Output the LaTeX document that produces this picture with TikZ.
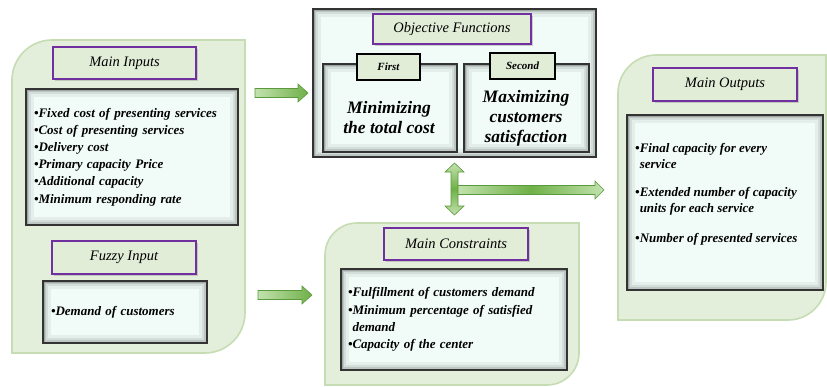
\documentclass[tikz,border=0pt]{standalone}
\usepackage{fontspec}
\setmainfont{Liberation Serif}
\usetikzlibrary{shadows}
\definecolor{panelfill}{HTML}{E4EFDB}
\definecolor{paneldraw}{HTML}{C6DDB3}
\definecolor{titlefill}{HTML}{E2EDD8}
\definecolor{titledraw}{HTML}{7030A0}
\definecolor{mint}{HTML}{F1FBF7}
\definecolor{arrowdraw}{HTML}{5A9A3C}
\definecolor{arrowlight}{HTML}{C3E2AE}
\definecolor{arrowdark}{HTML}{6FB048}
\newcommand\mypanel[5]{%
  \draw[panel] (#1,#2+#5) .. controls (#1,#2+0.45*#5) and (#1+0.45*#5,#2) .. (#1+#5,#2)
    -- (#3,#2) -- (#3,#4-#5) .. controls (#3,#4-0.45*#5) and (#3-0.45*#5,#4) .. (#3-#5,#4)
    -- (#1,#4) -- cycle;}
\tikzset{
  panel/.style={fill=panelfill, draw=paneldraw, line width=1.6pt},
  titlebox/.style={draw=titledraw, line width=2.4pt, fill=titlefill, font=\itshape\fontsize{14.5}{16}\selectfont,
    drop shadow={shadow xshift=2pt, shadow yshift=-2pt, opacity=0.35}},
  vignette/.style={path picture={
    \foreach \w/\o in {16/0.05,10/0.07,6/0.1,3/0.16,1.5/0.2}
      \draw[line width=\w pt, black, opacity=\o] (path picture bounding box.south west) rectangle (path picture bounding box.north east);}},
  contentbox/.style={draw=black!80, line width=1.2pt, fill=mint, vignette, inner xsep=9pt,
    font=\bfseries\itshape\fontsize{13}{17.2}\selectfont, align=left},
  smalllabel/.style={draw=black, line width=1.3pt, fill=titlefill, font=\bfseries\itshape\fontsize{11}{12}\selectfont},
  bigtext/.style={font=\bfseries\itshape\fontsize{17.5}{20}\selectfont, align=center},
  listtext/.style={font=\bfseries\itshape\fontsize{13}{16}\selectfont, align=left, inner sep=0pt},
  blockarrow/.style={draw=arrowdraw, line width=0.6pt, shading=axis, left color=arrowlight, right color=arrowdark},
  blockarrowv/.style={draw=arrowdraw, line width=0.6pt, top color=arrowlight, bottom color=arrowlight, middle color=arrowdark},
  blockarrowh/.style={draw=arrowdraw, line width=0.6pt, left color=arrowlight, right color=arrowlight, middle color=arrowdark},
}
\newcommand\myharrow[6]{% style, x1, x2, yc, head length
  \draw[#1] (#2,#4-4.5) -- (#3-#5,#4-4.5) -- (#3-#5,#4-9) -- (#3,#4) -- (#3-#5,#4+9) -- (#3-#5,#4+4.5) -- (#2,#4+4.5) -- cycle;}
\begin{document}
\begin{tikzpicture}[x=1pt,y=-1pt]
\useasboundingbox (0,0) rectangle (827,386);
\fill[white] (0,0) rectangle (827,386);

% panels
\mypanel{12}{40}{245}{353}{40}
\mypanel{325}{223}{579}{385}{32}
\mypanel{618}{55}{826}{320}{38}

% Main inputs
\node[titlebox, minimum width=143pt, minimum height=32pt] (mitit) at (124.5,63) {Main Inputs};
\node[contentbox, minimum width=212pt, minimum height=136pt, text width=196pt, inner xsep=8pt] (mibox) at (132,157)
 {•Fixed cost of presenting services\\
  •Cost of presenting services\\
  •Delivery cost\\
  •Primary capacity Price\\
  •Additional capacity\\
  •Minimum responding rate};

% Fuzzy input
\node[titlebox, minimum width=144pt, minimum height=33pt] (fititle) at (124,257.5) {Fuzzy Input};
\node[contentbox, minimum width=164pt, minimum height=62pt, text width=148pt, inner xsep=8pt] (fibox) at (125,312)
 {•Demand of customers};

% Objective functions
\node[contentbox, minimum width=283pt, minimum height=148pt] (objbox) at (454.5,83) {};
\node[titlebox, minimum width=158pt, minimum height=30pt] (objtitle) at (452,29) {Objective Functions};
\node[contentbox, minimum width=134pt, minimum height=88pt] (firstbox) at (390,108) {};
\node[contentbox, minimum width=125pt, minimum height=88pt] (secondbox) at (526.5,108) {};
\node[smalllabel, minimum width=63pt, minimum height=26pt] (firstlab) at (388.5,67) {First};
\node[smalllabel, minimum width=65pt, minimum height=26pt] (secondlab) at (522.5,66) {Second};
\node[bigtext] (firsttext) at (389,118) {Minimizing\\the total cost};
\node[bigtext] (secondtext) at (526,118) {Maximizing\\customers\\satisfaction};

% Constraints
\node[titlebox, minimum width=144pt, minimum height=32pt] (contitle) at (456,244) {Main Constraints};
\node[contentbox, minimum width=226pt, minimum height=101pt, text width=212pt, inner xsep=7pt] (conbox) at (454,319.5)
 {•Fulfillment of customers demand\\
  •Minimum percentage of satisfied\\
  \phantom{•}demand\\
  •Capacity of the center};

% Outputs
\node[titlebox, minimum width=144pt, minimum height=33pt] (outtitle) at (725,84.5) {Main Outputs};
\node[contentbox, minimum width=196pt, minimum height=175pt] (outbox) at (725,202.5) {};
\node[listtext, anchor=base west] (out1) at (635,168.5) {•Final capacity for every\\\phantom{•}service};
\node[listtext, anchor=base west] (out2) at (635,212.5) {•Extended number of capacity\\\phantom{•}units for each service};
\node[listtext, anchor=base west] (out3) at (635,242.5) {•Number of presented services};

% block arrows
\myharrow{blockarrow}{255}{308}{93}{10}{}
\myharrow{blockarrow}{258}{312}{295}{10}{}
\myharrow{blockarrowh}{457}{604}{190}{9}{}
\draw[blockarrowv] (451,172) -- (445,172) -- (454.5,163) -- (464,172) -- (458,172)
  -- (458,206) -- (464,206) -- (454.5,215) -- (445,206) -- (451,206) -- cycle;
\end{tikzpicture}
\end{document}
